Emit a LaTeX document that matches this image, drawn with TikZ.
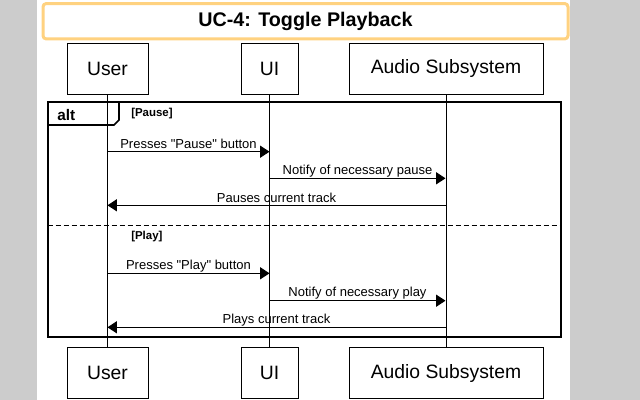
\documentclass[tikz,border=0pt]{standalone}
\usepackage{fontspec}
\setmainfont{Liberation Sans}[Ligatures=TeXOff]
\usetikzlibrary{arrows.meta}
\definecolor{bggrey}{RGB}{204,204,204}
\definecolor{titleorange}{RGB}{255,210,128}
\begin{document}
\begin{tikzpicture}[x=0.75pt,y=-0.75pt,
  actor/.style={draw=black,line width=0.75pt,fill=white,minimum height=38.25pt,inner sep=0pt,font=\fontsize{14.5}{17}\selectfont},
  lifeline/.style={draw=black,line width=0.75pt},
  msg/.style={draw=black,line width=0.75pt,-{Triangle[length=7pt,width=9pt]}},
  msglabel/.style={midway,yshift=5.7pt,inner sep=0pt,font=\fontsize{9.75}{11}\selectfont},
  guard/.style={anchor=west,inner sep=0pt,font=\fontsize{8.6}{10}\selectfont\bfseries},
  framebox/.style={draw=black,line width=1.5pt,inner sep=0pt},
  titlebox/.style={draw=titleorange,line width=2.25pt,rounded corners=2.5pt,fill=white,inner sep=0pt,font=\fontsize{14.8}{17}\selectfont\bfseries}
]
\useasboundingbox (0,0) rectangle (640,400);
\fill[bggrey] (0,0) rectangle (640,400);
\fill[white] (37,0) rectangle (570,400);

% title
\node[titlebox,minimum width=393.75pt,minimum height=26.6pt] (title) at (305.5,21.25) {UC-4: Toggle Playback};

% participants
\node[actor,minimum width=60.75pt] (usertop) at (107.5,68.5) {User};
\node[actor,minimum width=42.75pt] (uitop) at (269.5,68.5) {UI};
\node[actor,minimum width=145.5pt] (audiotop) at (446,68.5) {Audio Subsystem};
\node[actor,minimum width=60.75pt] (userbot) at (107.5,373) {User};
\node[actor,minimum width=42.75pt] (uibot) at (269.5,373) {UI};
\node[actor,minimum width=145.5pt] (audiobot) at (446,373) {Audio Subsystem};

% lifelines
\draw[lifeline] (usertop.south) -- (userbot.north);
\draw[lifeline] (uitop.south) -- (uibot.north);
\draw[lifeline] (audiotop.south) -- (audiobot.north);

% alt frame
\node[framebox,minimum width=384.75pt,minimum height=175.9pt] (altframe) at (304,219.75) {};
\coordinate (tabA) at (47.5,125);
\coordinate (tabB) at (114,125);
\coordinate (tabC) at (119,120);
\coordinate (tabD) at (119,102.5);
\draw[line width=1.2pt] (tabA) -- (tabB) -- (tabC) -- (tabD);
\node[anchor=west,inner sep=0pt,font=\fontsize{11.5}{13}\selectfont\bfseries] (altlabel) at (57,115) {alt};
\node[guard] (gpause) at (131,114) {[Pause]};
\coordinate (dashL) at (47.5,225.7);
\coordinate (dashR) at (560.5,225.7);
\draw[line width=1.1pt,dash pattern=on 3.75pt off 2.25pt] (dashL) -- (dashR);
\node[guard] (gplay) at (131,236.7) {[Play]};

% message anchor points
\coordinate (m1a) at (107.5,151.7); \coordinate (m1b) at (269.5,151.7);
\coordinate (m2a) at (269.5,178.3); \coordinate (m2b) at (445.5,178.3);
\coordinate (m3a) at (445.5,205.3); \coordinate (m3b) at (107.5,205.3);
\coordinate (m4a) at (107.5,273.3); \coordinate (m4b) at (269.5,273.3);
\coordinate (m5a) at (269.5,300.7); \coordinate (m5b) at (445.5,300.7);
\coordinate (m6a) at (445.5,327.3); \coordinate (m6b) at (107.5,327.3);

\draw[msg] (m1a) -- node[msglabel] {Presses "Pause" button} (m1b);
\draw[msg] (m2a) -- node[msglabel] {Notify of necessary pause} (m2b);
\draw[msg] (m3a) -- node[msglabel] {Pauses current track} (m3b);
\draw[msg] (m4a) -- node[msglabel] {Presses "Play" button} (m4b);
\draw[msg] (m5a) -- node[msglabel] {Notify of necessary play} (m5b);
\draw[msg] (m6a) -- node[msglabel] {Plays current track} (m6b);
\end{tikzpicture}
\end{document}
